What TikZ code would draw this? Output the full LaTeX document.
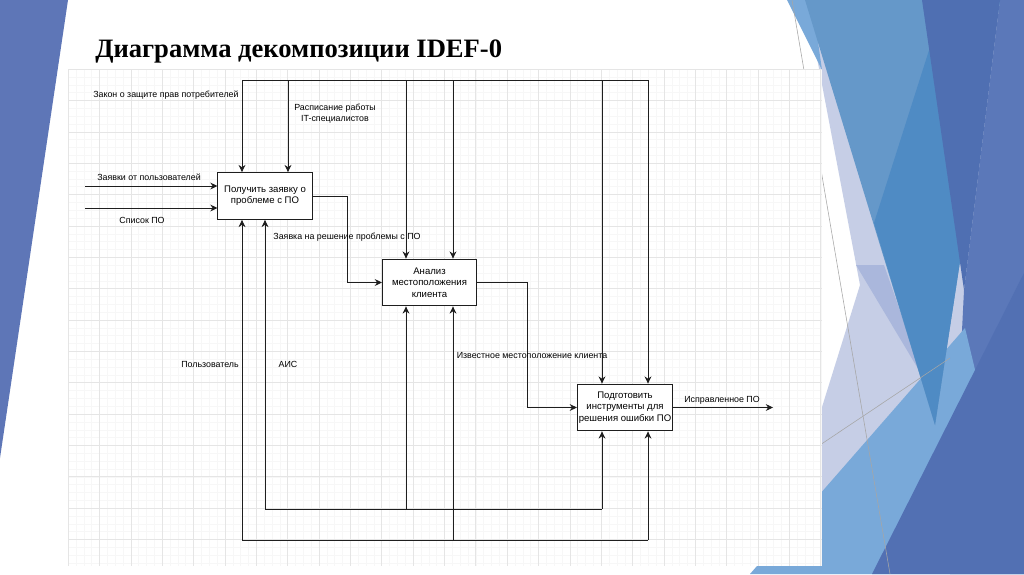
\documentclass[tikz,border=0pt]{standalone}
\usepackage{fontspec}
\setmainfont{Liberation Serif}
\setsansfont{Liberation Sans}
\usetikzlibrary{positioning,arrows.meta,calc}
\definecolor{facetleft}{RGB}{94,118,183}
\definecolor{facetlav}{RGB}{198,206,230}
\definecolor{facetgray}{RGB}{170,183,220}
\definecolor{facetmid}{RGB}{101,152,201}
\definecolor{facetdeep}{RGB}{79,139,196}
\definecolor{facetband}{RGB}{79,111,178}
\definecolor{facetcol}{RGB}{91,120,185}
\definecolor{facetlight}{RGB}{121,169,217}
\definecolor{facetdark}{RGB}{82,112,179}
\definecolor{wirecol}{RGB}{30,30,30}
\tikzset{
  fbox/.style={draw=wirecol, line width=0.7pt, fill=white, align=center, minimum width=2.35cm, minimum height=1.17cm, inner sep=1pt, font=\sffamily\fontsize{6.8}{8}\selectfont},
  arr/.style={-{Stealth[length=1.8mm,width=1.7mm]}, line width=0.65pt, draw=wirecol},
  wire/.style={line width=0.65pt, draw=wirecol},
  lbl/.style={font=\sffamily\fontsize{6.3}{8}\selectfont, inner sep=0pt, align=center},
  ttl/.style={font=\bfseries\fontsize{18.9}{22}\selectfont, inner sep=0pt},
  gridminor/.style={line width=0.2pt, draw=black!3},
  gridmajor/.style={line width=0.3pt, draw=black!10},
}

\begin{document}
\begin{tikzpicture}[x=0.025cm, y=-0.025cm]
    \useasboundingbox (0,0) rectangle (1024,574);
    % slide background
    \fill[white] (0,0) rectangle (1024,574);
    \fill[facetleft] (0,0) -- (68,0) -- (0,458) -- cycle;
    \fill[facetlav] (806,0) -- (1024,0) -- (1024,574) -- (770,574) -- (860,285) -- cycle;
    \fill[facetcol] (964,290) -- (1000,0) -- (1024,0) -- (1024,574) -- (950,574) -- cycle;
    \fill[facetgray] (856,265) -- (884,265) -- (923,377) -- cycle;
    \fill[facetlight] (750,574) -- (965,328) -- (1024,574) -- cycle;
    \fill[facetlight] (787,0) -- (812,0) -- (822,70) -- cycle;
    \fill[facetmid] (805,0) -- (1000,0) -- (935,425) -- cycle;
    \fill[facetdeep] (945,0) -- (1000,0) -- (935,425) -- (874,223) -- cycle;
    \fill[facetband] (922,0) -- (1000,0) -- (964,290) -- cycle;
    \fill[facetdark] (1024,273) -- (1024,574) -- (872,574) -- cycle;
    \draw[gray!70, line width=0.4pt] (792,0) -- (890,574);
    \draw[gray!70, line width=0.4pt] (790,465) -- (950,358);
    % drawing sheet with grid
    \fill[white] (68,69) rectangle (822,566);
    \foreach \i in {0,...,96}{\draw[gridminor] (68+7.84*\i,69) -- (68+7.84*\i,566);}
    \foreach \j in {0,...,63}{\draw[gridminor] (68,69+7.84*\j) -- (822,69+7.84*\j);}
    \foreach \i in {0,...,24}{\draw[gridmajor] (68+31.36*\i,69) -- (68+31.36*\i,566);}
    \foreach \j in {0,...,15}{\draw[gridmajor] (68,69+31.36*\j) -- (822,69+31.36*\j);}
    \node[ttl, anchor=base west] (title) at (95,57) {Диаграмма декомпозиции IDEF-0};
    % function boxes
    \node[fbox] (get) at (265,196) {Получить заявку о\\проблеме с ПО};
    \node[fbox] (loc) at (429.5,282.5) {Анализ\\местоположения\\клиента};
    \node[fbox] (prep) at (625,407.5) {Подготовить\\инструменты для\\решения ошибки ПО};
    % controls
    \coordinate (ctlA) at (242,80);
    \coordinate (ctlB) at (288,80);
    \coordinate (ctlC) at (406,80);
    \coordinate (ctlD) at (453,80);
    \coordinate (ctlE) at (602,80);
    \coordinate (ctlF) at (648,80);
    \draw[wire] (ctlA) -- (ctlF);
    \foreach \c/\b in {ctlA/get,ctlB/get,ctlC/loc,ctlD/loc,ctlE/prep,ctlF/prep}{\draw[arr] (\c) -- (\c |- \b.north);}
    % mechanisms
    \coordinate (aisA) at (265,509);
    \coordinate (aisB) at (406,509);
    \coordinate (aisC) at (602,509);
    \coordinate (usrA) at (242,540);
    \coordinate (usrB) at (453,540);
    \coordinate (usrC) at (648,540);
    \draw[wire] (aisA) -- (aisC);
    \draw[wire] (usrA) -- (usrC);
    \foreach \c/\b in {aisA/get,aisB/loc,aisC/prep,usrA/get,usrB/loc,usrC/prep}{\draw[arr] (\c) -- (\c |- \b.south);}
    % inputs and outputs
    \coordinate (inReq) at (85,186);
    \coordinate (inList) at (85,208);
    \coordinate (bendA) at (347,196);
    \coordinate (bendB) at (527,282.5);
    \coordinate (outFix) at (773,407.5);
    \draw[arr] (inReq) -- (inReq -| get.west);
    \draw[arr] (inList) -- (inList -| get.west);
    \draw[arr] (get.east) -| (bendA |- loc.west) -- (loc.west);
    \draw[arr] (loc.east) -| (bendB |- prep.west) -- (prep.west);
    \draw[arr] (prep.east) -- (outFix);
    % labels
    \node[lbl, anchor=west] (lawLbl) at (93,95) {Закон о защите прав потребителей};
    \node[lbl] (schedLbl) at (335,114) {Расписание работы\\IT-специалистов};
    \node[lbl] (reqLbl) at (149,177) {Заявки от пользователей};
    \node[lbl] (listLbl) at (142,220) {Список ПО};
    \node[lbl] (taskLbl) at (347,237) {Заявка на решение проблемы с ПО};
    \node[lbl] (knownLbl) at (532,355) {Известное местоположение клиента};
    \node[lbl] (fixLbl) at (722,400) {Исправленное ПО};
    \node[lbl] (usrLbl) at (210,364) {Пользователь};
    \node[lbl] (aisLbl) at (288,364) {АИС};
\end{tikzpicture}
\end{document}
